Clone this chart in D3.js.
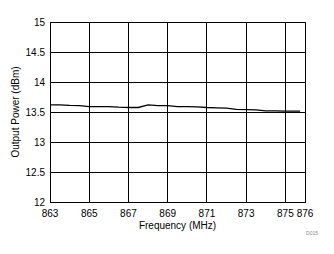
<!DOCTYPE html>
<html>
<head>
<meta charset="utf-8">
<script src="https://cdn.jsdelivr.net/npm/d3@7"></script>
<style>
  body { margin: 0; background: #fff; }
  text { font-family: "Liberation Sans", Arial, sans-serif; fill: #000; }
</style>
</head>
<body>
<svg width="334" height="254"></svg>
<script>
// frequency (MHz) vs output power (dBm)
var freq = [863, 863.5, 864, 864.5, 865, 865.5, 866, 866.5, 867, 867.5, 868, 868.5, 869, 869.5,
            870, 870.5, 871, 871.5, 872, 872.5, 873, 873.5, 874, 874.5, 875, 875.5, 875.75];
var power = [13.62, 13.62, 13.61, 13.605, 13.59, 13.59, 13.59, 13.58, 13.575, 13.575, 13.62, 13.605, 13.605, 13.59,
             13.59, 13.585, 13.575, 13.57, 13.565, 13.545, 13.54, 13.535, 13.52, 13.52, 13.515, 13.515, 13.515];
var xTicks = [863, 865, 867, 869, 871, 873, 875, 876];
var yTicks = [12, 12.5, 13, 13.5, 14, 14.5, 15];

var svg = d3.select("svg");
// plot area edges (note: "top" is taken by window.top)
var pL = 50, pR = 305, pT = 22, pB = 202;

var x = d3.scaleLinear().domain([863, 876]).range([pL, pR]);
var y = d3.scaleLinear().domain([12, 15]).range([pB, pT]);

// grid
svg.append("g")
  .selectAll("line")
  .data(xTicks)
  .join("line")
  .attr("x1", d => x(d)).attr("x2", d => x(d))
  .attr("y1", pT).attr("y2", pB)
  .attr("stroke", "#000").attr("stroke-width", 1)
  .attr("shape-rendering", "crispEdges");

svg.append("g")
  .selectAll("line")
  .data(yTicks)
  .join("line")
  .attr("x1", pL).attr("x2", pR)
  .attr("y1", d => y(d)).attr("y2", d => y(d))
  .attr("stroke", "#000").attr("stroke-width", 1)
  .attr("shape-rendering", "crispEdges");

svg.append("rect")
  .attr("x", pL).attr("y", pT)
  .attr("width", pR - pL).attr("height", pB - pT)
  .attr("fill", "none").attr("stroke", "#000")
  .attr("shape-rendering", "crispEdges");

// tick labels
svg.append("g")
  .selectAll("text")
  .data(xTicks)
  .join("text")
  .attr("x", d => x(d)).attr("y", pB + 15)
  .attr("text-anchor", "middle")
  .attr("font-size", 10)
  .text(d => d);

svg.append("g")
  .selectAll("text")
  .data(yTicks)
  .join("text")
  .attr("x", pL - 5).attr("y", d => y(d) + 4)
  .attr("text-anchor", "end")
  .attr("font-size", 10)
  .text(d => d);

// data line
var line = d3.line()
  .x((d, i) => x(freq[i]))
  .y(d => y(d));

svg.append("path")
  .datum(power)
  .attr("d", line)
  .attr("fill", "none")
  .attr("stroke", "#000")
  .attr("stroke-width", 1.3);

// titles
svg.append("text")
  .attr("x", (pL + pR) / 2).attr("y", 229)
  .attr("text-anchor", "middle")
  .attr("font-size", 10)
  .text("Frequency (MHz)");

svg.append("text")
  .attr("transform", "translate(19," + ((pT + pB) / 2) + ") rotate(-90)")
  .attr("text-anchor", "middle")
  .attr("font-size", 10)
  .text("Output Power (dBm)");

svg.append("text")
  .attr("x", 318).attr("y", 235)
  .attr("text-anchor", "end")
  .attr("font-size", 5)
  .style("fill", "#888")
  .text("D015");
</script>
</body>
</html>
